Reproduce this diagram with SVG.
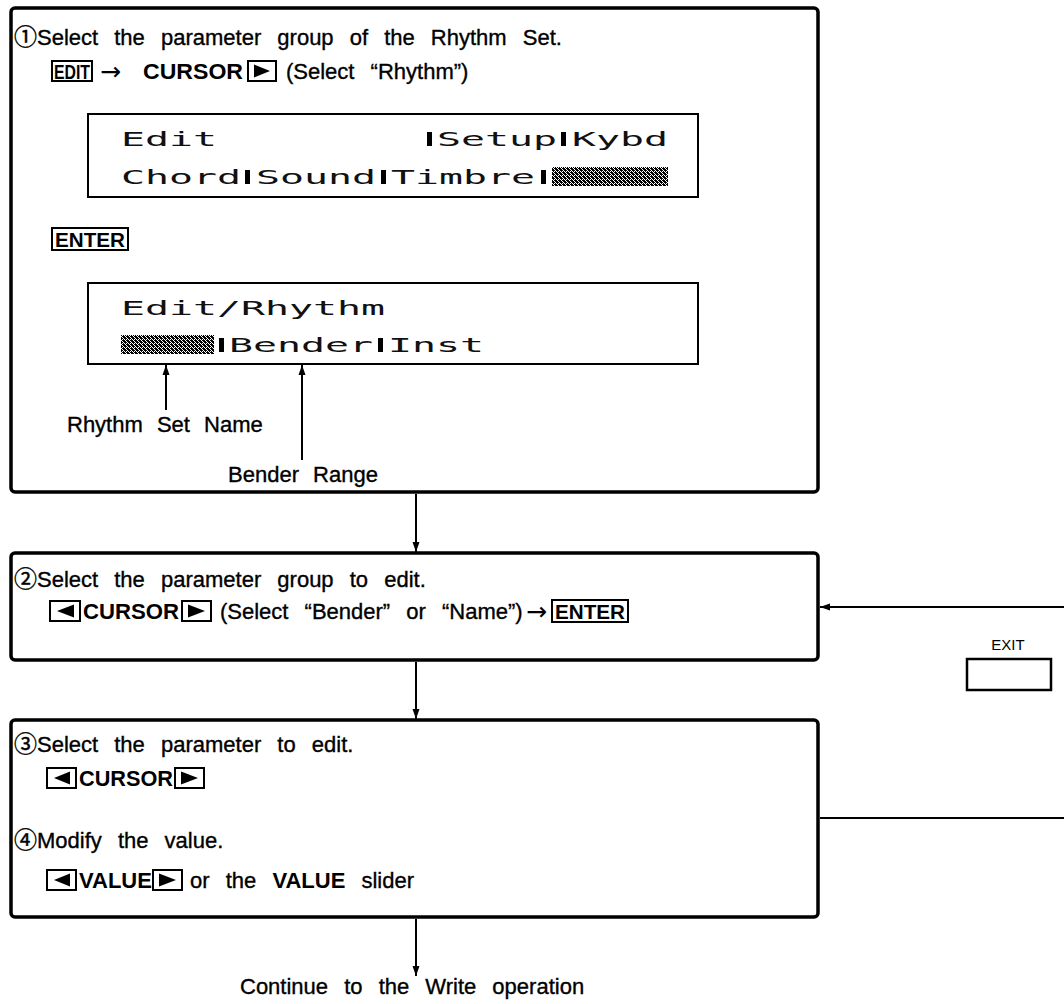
<svg xmlns="http://www.w3.org/2000/svg" width="1064" height="1004" viewBox="0 0 1064 1004">
<style>
.box{fill:none;stroke:#000;stroke-width:3.5}
.lcd{fill:none;stroke:#000;stroke-width:2}
.key{fill:none;stroke:#000;stroke-width:2}
.t{font-family:"Liberation Sans",Arial,sans-serif;font-size:22px;fill:#000;stroke:#000;stroke-width:0.35;word-spacing:10px}
.b{font-family:"Liberation Sans",Arial,sans-serif;font-size:22px;font-weight:bold;fill:#000}
.kt{font-family:"Liberation Sans",Arial,sans-serif;font-size:21px;font-weight:bold;fill:#000;text-anchor:middle}
.num{font-family:"Noto Sans CJK JP","DejaVu Sans",sans-serif;font-size:23px;fill:#000;stroke:#000;stroke-width:0.4}
.lt{font-family:"DejaVu Sans Mono",monospace;font-size:19px;fill:#111}
.bar{fill:#000}
.hat{fill:url(#hatch)}
.ln{stroke:#000;stroke-width:2;fill:none}
.ex{font-family:"Liberation Sans",Arial,sans-serif;font-size:15px;fill:#000;text-anchor:middle}
.arr{font-family:"DejaVu Sans",sans-serif;font-size:25px;fill:#000}
</style>
<defs>
<pattern id="hatch" width="4" height="4" patternUnits="userSpaceOnUse">
<rect width="4" height="4" fill="#000"/>
<rect x="1" y="0" width="1" height="1" fill="#fff"/>
<rect x="3" y="2" width="1" height="1" fill="#fff"/>
<rect x="0" y="3" width="1" height="1" fill="#fff"/>
<rect x="2" y="1" width="1" height="1" fill="#fff"/>
<rect x="2" y="3" width="1" height="1" fill="#fff"/>
</pattern>
<marker id="ah" viewBox="0 0 10 10" refX="10" refY="5" markerWidth="10" markerHeight="10" markerUnits="userSpaceOnUse" orient="auto">
<path d="M0,1.5 L10,5 L0,8.5 Z" fill="#000"/>
</marker>
</defs>

<g id="step1">
<rect class="box" x="11" y="8" width="807" height="484" rx="4"/>
<text class="num" x="14" y="45">①</text>
<text class="t" x="37" y="45">Select the parameter group of the Rhythm Set.</text>
<rect class="key" x="52" y="61" width="40" height="20"/>
<text class="kt" x="72" y="79" textLength="36" lengthAdjust="spacingAndGlyphs">EDIT</text>
<text class="arr" x="100" y="80">→</text>
<text class="b" x="143" y="79" textLength="100" lengthAdjust="spacingAndGlyphs">CURSOR</text>
<rect class="key" x="248" y="61" width="28" height="20"/>
<path d="M254,64.5 L270,71 L254,77.5 Z"/>
<text class="t" x="286" y="79">(Select “Rhythm”)</text>

<g id="display1">
<rect class="lcd" x="88" y="114" width="610" height="83"/>
<text class="lt" x="121" y="146" textLength="96" lengthAdjust="spacingAndGlyphs">Edit</text>
<rect class="bar" x="427" y="132" width="5" height="14"/>
<text class="lt" x="437" y="146" textLength="120" lengthAdjust="spacingAndGlyphs">Setup</text>
<rect class="bar" x="561" y="132" width="5" height="14"/>
<text class="lt" x="572" y="146" textLength="96" lengthAdjust="spacingAndGlyphs">Kybd</text>
<text class="lt" x="121" y="184" textLength="120" lengthAdjust="spacingAndGlyphs">Chord</text>
<rect class="bar" x="245" y="170" width="5" height="14"/>
<text class="lt" x="256" y="184" textLength="120" lengthAdjust="spacingAndGlyphs">Sound</text>
<rect class="bar" x="381" y="170" width="5" height="14"/>
<text class="lt" x="391" y="184" textLength="144" lengthAdjust="spacingAndGlyphs">Timbre</text>
<rect class="bar" x="541" y="170" width="5" height="14"/>
<rect class="hat" x="552" y="167" width="116" height="19"/>
</g>

<rect class="key" x="52" y="228" width="76" height="22"/>
<text class="kt" x="90" y="247" textLength="70" lengthAdjust="spacingAndGlyphs">ENTER</text>

<g id="display2">
<rect class="lcd" x="88" y="283" width="610" height="81"/>
<text class="lt" x="121" y="315" textLength="264" lengthAdjust="spacingAndGlyphs">Edit/Rhythm</text>
<rect class="hat" x="121" y="335" width="93" height="19"/>
<rect class="bar" x="219" y="338" width="5" height="14"/>
<text class="lt" x="229" y="352" textLength="144" lengthAdjust="spacingAndGlyphs">Bender</text>
<rect class="bar" x="378" y="338" width="5" height="14"/>
<text class="lt" x="388" y="352" textLength="96" lengthAdjust="spacingAndGlyphs">Inst</text>
</g>

<text class="t" x="67" y="432" style="word-spacing:8px">Rhythm Set Name</text>
<text class="t" x="303" y="482" text-anchor="middle" style="word-spacing:8px">Bender Range</text>
</g>

<g id="step2">
<rect class="box" x="11" y="553" width="807" height="107" rx="4"/>
<text class="num" x="14" y="587">②</text>
<text class="t" x="37" y="587">Select the parameter group to edit.</text>
<rect class="key" x="50" y="601" width="30" height="20"/>
<path d="M74,604.5 L57,611 L74,617.5 Z"/>
<text class="b" x="83" y="619" textLength="96" lengthAdjust="spacingAndGlyphs">CURSOR</text>
<rect class="key" x="182" y="601" width="29" height="20"/>
<path d="M188,604.5 L205,611 L188,617.5 Z"/>
<text class="t" x="220" y="619">(Select “Bender” or “Name”)</text>
<text class="arr" x="526" y="620">→</text>
<rect class="key" x="552" y="600" width="76" height="22"/>
<text class="kt" x="590" y="619" textLength="70" lengthAdjust="spacingAndGlyphs">ENTER</text>
</g>

<g id="step3">
<rect class="box" x="11" y="720" width="807" height="197" rx="4"/>
<text class="num" x="14" y="752">③</text>
<text class="t" x="37" y="752">Select the parameter to edit.</text>
<rect class="key" x="47" y="768" width="29" height="20"/>
<path d="M70,771.5 L54,778 L70,784.5 Z"/>
<text class="b" x="79" y="786" textLength="94" lengthAdjust="spacingAndGlyphs">CURSOR</text>
<rect class="key" x="175" y="768" width="29" height="20"/>
<path d="M181,771.5 L198,778 L181,784.5 Z"/>
<text class="num" x="14" y="848">④</text>
<text class="t" x="37" y="848">Modify the value.</text>
<rect class="key" x="47" y="870" width="29" height="20"/>
<path d="M70,873.5 L54,880 L70,886.5 Z"/>
<text class="b" x="79" y="888">VALUE</text>
<rect class="key" x="153" y="870" width="29" height="20"/>
<path d="M159,873.5 L176,880 L159,886.5 Z"/>
<text class="t" x="190" y="888">or the <tspan style="font-weight:bold;stroke-width:0">VALUE</tspan> slider</text>
</g>

<g id="exit">
<text class="ex" x="1008" y="650">EXIT</text>
<rect x="967" y="659" width="84" height="31" fill="none" stroke="#000" stroke-width="2.5"/>
</g>

<text id="continue" class="t" x="240" y="994">Continue to the Write operation</text>

<g id="connectors">
<line class="ln" x1="166" y1="410" x2="166" y2="365" marker-end="url(#ah)"/>
<line class="ln" x1="302" y1="460" x2="302" y2="365" marker-end="url(#ah)"/>
<line class="ln" x1="416" y1="494" x2="416" y2="552" marker-end="url(#ah)"/>
<line class="ln" x1="416" y1="662" x2="416" y2="719" marker-end="url(#ah)"/>
<line class="ln" x1="416" y1="919" x2="416" y2="976" marker-end="url(#ah)"/>
<line class="ln" x1="1064" y1="607" x2="820" y2="607" marker-end="url(#ah)"/>
<line class="ln" x1="820" y1="818" x2="1064" y2="818"/>
</g>
</svg>
